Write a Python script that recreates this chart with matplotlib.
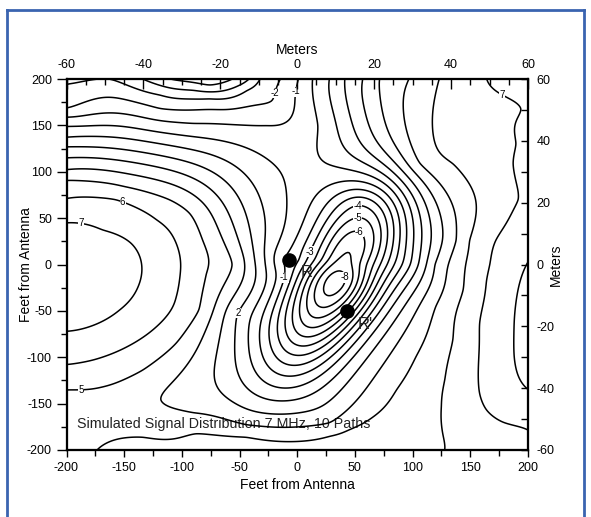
import numpy as np
import matplotlib.pyplot as plt
from matplotlib.lines import Line2D
from matplotlib.ticker import MultipleLocator

plt.rcParams['font.family'] = ['Liberation Sans', 'DejaVu Sans']
plt.rcParams['axes.unicode_minus'] = False

# contour readings: position in feet and level in dB
pt_x = [-200, -200, -200, -200, -200, -200, -200, -200, -200, -200, -200, -200, -200, -200,  # left edge
        -200, -200, -200,
        -169, -144, -135, -138, -154, -180,                        # 7 around left peak
        -157, -122, -105, -101, -105, -122, -148, -177,            # 6
        -169, -134, -105, -85, -79, -82, -93, -111, -150,          # 5
        -162, -119, -76, -44, -33, -134, -90, -47, -41, -111, -76, -56,   # top hollow
        -119, -62, -21, -15, -90, -27, -7, -2, 1,
        13, 28, 41, 57, 71, 97, 123, 164, 200,                     # top edge
        25, 18, 106, 135,                                          # lines bending right
        -56, -46, -37, -28, -20, -13,                              # row left of null
        47, 54, 60, 66, 72, 78, 84, 91, 98, 105, 112, 119, 131, 146, 167,   # row right of null
        11, 52, 52, 54, -11, 33, 42, 45, 19,
        27, 21, 15, 8, 2,
        -52,
        28, -44, -90, -119,                                        # 4 below the null
        120, 103, 86, 66, 45, 28, -44, -88, -134, -174, 138,       # 5 along the bottom
        149, 144, 135, 128, 125, 126, 128,                         # 6 down to the bottom edge
        195, 190, 187, 192, 172, 164, 158, 157, 158, 164, 178, 200,  # 7 along the right edge
        200, 188, 188, 193, 200, 200,                              # right edge pocket
        200, 200, 200, 200, 200, 200,
        -100, 0, 100, 160, 200]
pt_y = [195, 168, 159, 149, 137, 127, 115, 102, 91, 71, 45, -72, -108, -135,
        200, -200, -15,
        37, 23, 1, -24, -49, -67,
        70, 48, 23, -2, -35, -67, -89, -103,
        -132, -114, -85, -49, -10, 26, 55, 70, 84,
        200, 183, 179, 188, 200, 200, 188, 195, 200, 200, 193, 200,
        168, 167, 176, 199, 152, 150, 156, 181, 199,
        200, 200, 200, 200, 200, 200, 200, 200, 200,
        109, 150, 109, 109,
        0, 5, 5, 5, 5, 5,
        0, 0, 0, 0, 0, 0, 0, 0, 0, 0, 0, 0, 0, 0, 0,
        14, 64, 50, 35, -14, -16, -14, 14, -45,
        5, 5, 5, 5, 5,
        -53,
        -171, -173, -160, -146,
        -45, -99, -135, -164, -178, -185, -186, -182, -186, -200, 26,
        26, -27, -81, -124, -153, -182, -200,
        168, 130, 109, 70, 26, -17, -63, -110, -139, -157, -170, -178,
        3, -63, -99, -124, -135, -70,
        150, 120, 90, 60, 30, -160,
        -200, -200, -200, -200, -200]
pt_level = [-3, -2, -1, 0, 1, 2, 3, 4, 5, 6, 7, 7, 6, 5,
            -3.3, 4.5, 7.9,
            7, 7, 7, 7, 7, 7,
            6, 6, 6, 6, 6, 6, 6, 6,
            5, 5, 5, 5, 5, 5, 5, 5, 5,
            -3, -3, -3, -3, -3, -4, -4, -4, -4, -5, -5, -5,
            -2, -2, -2, -2, -1, -1, -1, -1, -1,
            0, 1, 2, 3, 4, 5, 6, 7, 7.6,
            0, 0, 5, 6,
            4, 3, 2, 1, 0, -1,
            -7, -6, -5, -4, -3, -2, -1, 0, 1, 2, 3, 4, 5, 6, 7,
            -3, -4, -5, -6, -1, -8.6, -8, -7, -7,
            -6, -5, -4, -3, -2,
            2,
            4, 4, 4, 4,
            5, 5, 5, 5, 5, 5, 5, 5, 5, 5, 5,
            6, 6, 6, 6, 6, 6, 6,
            7, 7, 7, 7, 7, 7, 7, 7, 7, 7, 7, 7,
            8, 8, 8, 8, 8, 8.3,
            7.3, 7.3, 7.3, 7.4, 7.6, 7.4,
            5.3, 5.5, 5.8, 6.4, 6.8]

# deep null between the two receivers
null_x, null_y = 33, -16
null_depth = -10.0
null_len, null_wid, null_ang = 65, 26, 66

levels = list(range(-9, 10))
label_level = [6, 7, 5, 2, -1, -3, -4, -5, -6, -8, -2, -1, 7]
label_x = [-147, -187, -188, -52, -11, 11, 52, 52, 54, 42, -13, 5, 185]
label_y = [76, 47, -136, -53, -14, 14, 64, 50, 35, -14, 184, 186, 194]

rx_x = [-7, 43]
rx_y = [5, -50]
rx_name = ['R', "R'"]
rx_text_x = [3, 52]
rx_text_y = [-13, -70]


def null_shape(px, py):
    t = np.radians(null_ang)
    u = (px - null_x) * np.cos(t) + (py - null_y) * np.sin(t)
    v = -(px - null_x) * np.sin(t) + (py - null_y) * np.cos(t)
    return null_depth * np.exp(-(u**2 / (2 * null_len**2) + v**2 / (2 * null_wid**2)))


def tps_kernel(r):
    with np.errstate(divide='ignore', invalid='ignore'):
        k = r**2 * np.log(r)
    return np.nan_to_num(k)


# thin plate surface through the readings (null handled separately)
px = np.array(pt_x, float)
py = np.array(pt_y, float)
pz = np.array(pt_level, float) - null_shape(px, py)
P = np.column_stack([px, py]) / 100.0
n = len(P)
K = tps_kernel(np.hypot(P[:, None, 0] - P[None, :, 0], P[:, None, 1] - P[None, :, 1]))
K += 0.005 * np.eye(n)
Q = np.column_stack([np.ones(n), P])
A = np.zeros((n + 3, n + 3))
A[:n, :n] = K
A[:n, n:] = Q
A[n:, :n] = Q.T
coef = np.linalg.solve(A, np.concatenate([pz, np.zeros(3)]))

x = np.linspace(-200, 200, 321)
y = np.linspace(-200, 200, 321)
X, Y = np.meshgrid(x, y)
G = np.column_stack([X.ravel(), Y.ravel()]) / 100.0
Kg = tps_kernel(np.hypot(G[:, None, 0] - P[None, :, 0], G[:, None, 1] - P[None, :, 1]))
Z = (Kg @ coef[:n] + coef[n] + G @ coef[n + 1:]).reshape(X.shape) + null_shape(X, Y)

fig = plt.figure(figsize=(5.91, 5.17), dpi=100)
ax = fig.add_axes([66.5 / 591, 1 - 450 / 517, 461.5 / 591, 371 / 517])

cs = ax.contour(X, Y, Z, levels=levels, colors='black', linewidths=1.1, linestyles='solid')

# level numbers sit on their own line, nearest to the given spot
for lv, lx, ly in zip(label_level, label_x, label_y):
    segs = [s for s in cs.allsegs[levels.index(lv)] if len(s)]
    if not segs:
        continue
    verts = np.vstack(segs)
    k = np.argmin(np.hypot(verts[:, 0] - lx, verts[:, 1] - ly))
    ax.text(verts[k, 0], verts[k, 1], str(lv), fontsize=7, ha='center', va='center',
            zorder=4, bbox=dict(facecolor='white', edgecolor='none', pad=0.2))

ax.plot(rx_x, rx_y, 'o', color='black', markersize=9.5, zorder=5)
for tx, ty, name in zip(rx_text_x, rx_text_y, rx_name):
    ax.text(tx, ty, name, fontsize=12, color='#222222', ha='left', va='baseline', zorder=5)

ax.text(-191, -176, 'Simulated Signal Distribution 7 MHz, 10 Paths', fontsize=10.3,
        color='#222222', zorder=1)

ax.set_xlim(-200, 200)
ax.set_ylim(-200, 200)
ax.xaxis.set_major_locator(MultipleLocator(50))
ax.xaxis.set_minor_locator(MultipleLocator(25))
ax.yaxis.set_major_locator(MultipleLocator(50))
ax.yaxis.set_minor_locator(MultipleLocator(25))
ax.tick_params(which='both', direction='out', labelsize=9, width=1)
ax.tick_params(axis='x', which='major', length=5)
ax.tick_params(axis='x', which='minor', length=4)
ax.tick_params(axis='y', which='major', length=7)
ax.tick_params(axis='y', which='minor', length=4)
ax.set_xlabel('Feet from Antenna', fontsize=10, labelpad=3)
ax.set_ylabel('Feet from Antenna', fontsize=10)
ax.yaxis.set_label_coords((33 - 66.5) / 461.5, 0.5)

# meters on the opposite sides
axt = ax.twiny()
axt.set_xlim(-60, 60)
axt.xaxis.set_major_locator(MultipleLocator(20))
axt.xaxis.set_minor_locator(MultipleLocator(5))
axt.tick_params(which='both', direction='in', labelsize=9, pad=6, width=1)
axt.tick_params(which='major', length=7)
axt.tick_params(which='minor', length=4)
axt.set_xlabel('Meters', fontsize=10, labelpad=3)

axr = ax.twinx()
axr.set_ylim(-60, 60)
axr.yaxis.set_major_locator(MultipleLocator(20))
axr.yaxis.set_minor_locator(MultipleLocator(10))
axr.tick_params(which='both', direction='in', labelsize=9, pad=6, width=1, length=5)
axr.set_ylabel('Meters', fontsize=10)
axr.yaxis.set_label_coords((549 - 66.5) / 461.5, 0.5)

for a in (ax, axt, axr):
    for s in a.spines.values():
        s.set_linewidth(1.5)

# blue frame around the panel
frame = dict(color='#3a64b0', linewidth=2, transform=None)
fig.add_artist(Line2D([6.5, 6.5], [0, 517 - 9.5], **frame))
fig.add_artist(Line2D([6.5, 583.5], [517 - 9.5, 517 - 9.5], **frame))
fig.add_artist(Line2D([583.5, 583.5], [0, 517 - 9.5], **frame))

fig.savefig('out.png', dpi=100)
